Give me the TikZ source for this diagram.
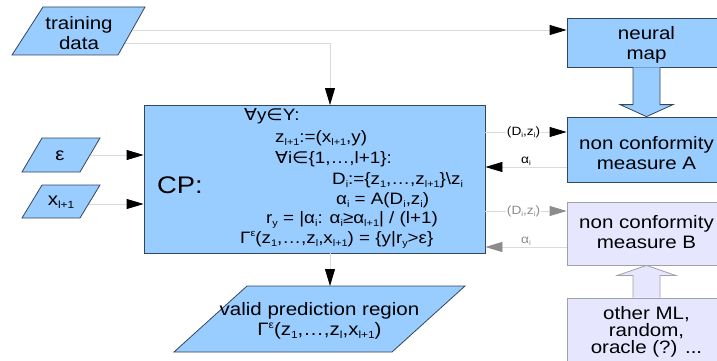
\documentclass[tikz,border=0pt]{standalone}
\usepackage{fontspec}
\setmainfont{Liberation Sans}[FakeStretch=1.14]
\newfontfamily\symf{DejaVu Sans}[FakeStretch=1.14]
\usetikzlibrary{arrows.meta,calc}
\definecolor{cpblue}{HTML}{99CCFF}
\definecolor{bluedge}{HTML}{34465A}
\definecolor{lav}{HTML}{E6E6FF}
\definecolor{lavedge}{HTML}{A0A0A8}
\definecolor{lineg}{HTML}{DADADA}
\definecolor{tipgray}{HTML}{8C8C8C}
\makeatletter
\newdimen\sbbd
\newcommand\sbb[1]{\sbbd=\f@size pt\relax\sbbd=0.58\sbbd\relax\raisebox{-0.35ex}{\fontsize{\strip@pt\sbbd}{\strip@pt\sbbd}\selectfont #1}}
\newcommand\spp[1]{\sbbd=\f@size pt\relax\sbbd=0.58\sbbd\relax\raisebox{0.75ex}{\fontsize{\strip@pt\sbbd}{\strip@pt\sbbd}\selectfont #1}}
\makeatother
\newcommand\fa{{\symf ∀}}
\newcommand\inn{{\symf ∈}}
\begin{document}
\begin{tikzpicture}[x=1pt,y=-1pt,
  bluebox/.style={draw=bluedge, fill=cpblue, line width=0.8pt},
  lavbox/.style={draw=lavedge, fill=lav, line width=0.8pt},
  conn/.style={draw=lineg, line width=0.8pt},
  tipk/.style={-{Triangle[length=17pt,width=10pt,color=black]}},
  tipgr/.style={-{Triangle[length=17pt,width=10pt,color=tipgray]}},
  txt/.style={font=\fontsize{18}{20}\selectfont, align=center, inner sep=0pt},
  cpt/.style={font=\fontsize{16.5}{18}\selectfont, anchor=west, inner sep=0pt},
  lbl/.style={font=\fontsize{12}{14}\selectfont, inner sep=1pt}]
\useasboundingbox (0,0) rectangle (717,361);
\fill[white] (0,0) rectangle (717,361);

% right-hand boxes
\node[bluebox, minimum width=159pt, minimum height=49pt] (nm) at (646.5,42.5) {};
\node[txt] (nmt) at (646.5,45) {neural\\map};
\node[bluebox, minimum width=159pt, minimum height=65pt] (ncma) at (646.5,149.5) {};
\node[txt] (ncmat) at (646.5,153) {non conformity\\measure A};
\node[lavbox, minimum width=159pt, minimum height=63pt] (ncmb) at (646.5,233.5) {};
\node[txt] (ncmbt) at (646.5,232) {non conformity\\measure B};
\node[lavbox, minimum width=159pt, minimum height=72pt] (oth) at (646.5,334) {};
\node[txt, font=\fontsize{18}{17}\selectfont] (otht) at (646.5,332) {other ML,\\random,\\oracle (?) ...};

% CP box
\node[bluebox, minimum width=341pt, minimum height=148pt] (cp) at (314.5,179) {};
\node[anchor=west, inner sep=0pt, font=\fontsize{24}{28}\selectfont] (cpl) at (157,185) {CP:};
\node[cpt] (l1) at (244,116) {\fa y\inn Y:};
\node[cpt] (l2) at (275,138) {z\sbb{l+1}:=(x\sbb{l+1},y)};
\node[cpt] (l3) at (275,159) {\fa i\inn\{1,…,l+1\}:};
\node[cpt] (l4) at (332,180) {D\sbb{i}:=\{z\sbb{1},…,z\sbb{l+1}\}\textbackslash z\sbb{i}};
\node[cpt] (l5) at (336,200) {α\sbb{i} = A(D\sbb{i},z\sbb{i})};
\node[cpt] (l6) at (266,220) {r\sbb{y} = |α\sbb{i}: α\sbb{i}≥α\sbb{l+1}|~/~(l+1)};
\node[cpt] (l7) at (240,240) {Γ\spp{ε}(z\sbb{1},…,z\sbb{l},x\sbb{l+1}) = \{y|r\sbb{y}>ε\}};

% parallelograms (inputs / output)
\fill[bluebox] (43,7) -- (145,7) -- (118,55) -- (12,55) -- cycle;
\node[txt] (td) at (79,33) {training\\data};
\fill[bluebox] (42,138) -- (100,138) -- (80,172) -- (22,172) -- cycle;
\node[txt] (eps) at (60,156) {ε};
\fill[bluebox] (42,185) -- (100,185) -- (80,218) -- (22,218) -- cycle;
\node[txt] (xin) at (61,202) {x\sbb{l+1}};
\fill[bluebox] (247,286) -- (465,286) -- (392,352) -- (174,352) -- cycle;
\node[txt] (vr) at (319.5,321) {valid prediction region\\Γ\spp{ε}(z\sbb{1},…,z\sbb{l},x\sbb{l+1})};

% connector end points
\coordinate (tdA) at (133,30);
\coordinate (tdB) at (125,43);
\coordinate (cpin) at (330,105);
\coordinate (epsR) at (91,155);
\coordinate (xR) at (89,204);
\coordinate (vrtop) at (330,286);

% connectors
\draw[conn, tipk] (tdA) -- (tdA -| nm.west);
\draw[conn, tipk] (tdB) -| (cpin);
\draw[conn, tipk] (epsR) -- (epsR -| cp.west);
\draw[conn, tipk] (xR) -- (xR -| cp.west);
\draw[conn, tipk] (cpin |- cp.south) -- (vrtop);

\draw[conn, tipk] (cp.east |- 0,132) -- node[lbl, fill=white, pos=0.47] {(D\sbb{i},z\sbb{i})} (ncma.west |- 0,132);
\draw[conn, tipk] (ncma.west |- 0,167) -- node[lbl, above=0pt] {α\sbb{i}} (cp.east |- 0,167);
\draw[conn, tipgr] (cp.east |- 0,211) -- node[lbl, fill=white, text=tipgray, pos=0.47] {(D\sbb{i},z\sbb{i})} (ncmb.west |- 0,211);
\draw[conn, tipgr] (ncmb.west |- 0,247) -- node[lbl, above=0pt, text=tipgray] {α\sbb{i}} (cp.east |- 0,247);

% block arrows
\draw[bluebox, line join=miter] ($(nm.south)+(-13.5,0)$) -- ($(ncma.north)+(-13.5,-12)$) -- ($(ncma.north)+(-26.5,-12)$) -- (ncma.north) -- ($(ncma.north)+(26.5,-12)$) -- ($(ncma.north)+(13.5,-12)$) -- ($(nm.south)+(13.5,0)$);
\draw[lavbox, line join=miter] ($(oth.north)+(-13.5,0)$) -- ($(ncmb.south)+(-13.5,10)$) -- ($(ncmb.south)+(-29,10)$) -- (ncmb.south) -- ($(ncmb.south)+(29,10)$) -- ($(ncmb.south)+(13.5,10)$) -- ($(oth.north)+(13.5,0)$);
\end{tikzpicture}
\end{document}
